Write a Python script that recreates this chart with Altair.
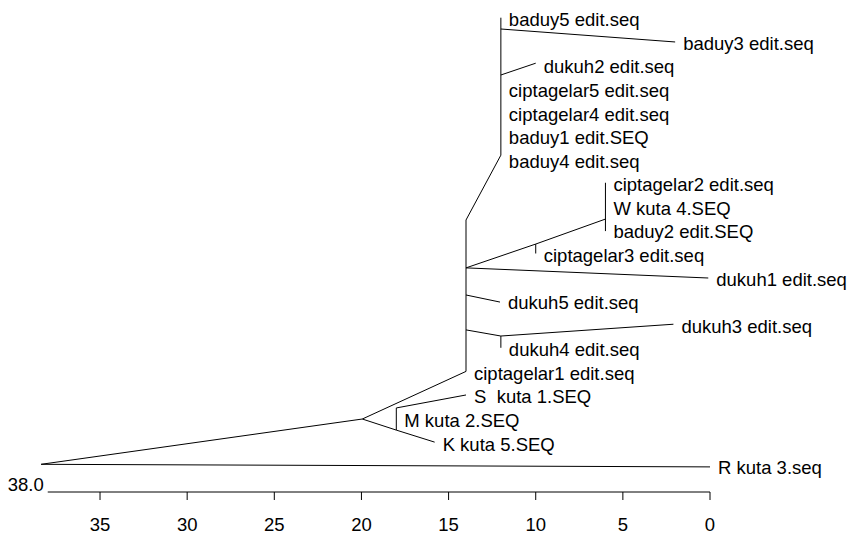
import altair as alt
import pandas as pd

# ---- tree data: internal nodes (distance on the axis, row position) ----
node_ids = ["root", "A", "N6", "N7", "B1", "B", "N8", "N9", "C", "N1", "N2", "N3", "N4", "N5"]
node_dist = [38.38, 19.95, 18.0, 18.0, 14.0, 14.0, 14.0, 14.0, 12.0, 12.0, 12.0, 10.0, 6.0, 12.0]
node_row = [18.94, 17.02, 17.49, 16.55, 8.58, 10.61, 11.76, 13.24, 5.83, 0.48, 2.43, 9.6, 8.54, 13.5]

# ---- leaves (in drawing order, top to bottom) ----
leaf_names = [
    "baduy5 edit.seq", "baduy3 edit.seq", "dukuh2 edit.seq", "ciptagelar5 edit.seq",
    "ciptagelar4 edit.seq", "baduy1 edit.SEQ", "baduy4 edit.seq", "ciptagelar2 edit.seq",
    "W kuta 4.SEQ", "baduy2 edit.SEQ", "ciptagelar3 edit.seq", "dukuh1 edit.seq",
    "dukuh5 edit.seq", "dukuh3 edit.seq", "dukuh4 edit.seq", "ciptagelar1 edit.seq",
    "S\u00a0 kuta 1.SEQ", "M kuta 2.SEQ", "K kuta 5.SEQ", "R kuta 3.seq",
]
leaf_dist = [12.0, 2.0, 10.0, 12.0, 12.0, 12.0, 12.0, 6.0, 6.0, 6.0,
             10.0, 0.1, 12.05, 2.1, 12.0, 14.0, 14.0, 18.0, 15.8, 0.0]
leaf_tip_row = [0.0, 1.03, 1.93, 3.0, 4.0, 5.0, 6.0, 7.0, 8.0, 9.05,
                10.0, 11.04, 12.06, 13.0, 14.0, 15.0, 16.0, 17.0, 18.0, 19.05]
leaf_ids = [f"L{i}" for i in range(len(leaf_names))]

# ---- branches (from node, to node) ----
edge_from = ["root", "root", "A", "A", "N6", "N6", "N7", "L15", "B1", "C", "N1", "N2",
             "B", "N3", "N3", "L7", "B", "N8", "N9", "N5", "N5"]
edge_to = ["A", "L19", "L15", "N6", "L18", "N7", "L16", "B1", "C", "L0", "L1", "L2",
           "N3", "L10", "N4", "L9", "L11", "L12", "N5", "L14", "L13"]

# ---- axis ----
tick_values = [35, 30, 25, 20, 15, 10, 5, 0]
axis_start = 38.0
axis_start_label = "38.0"

pos = {}
for i, d, r in zip(node_ids, node_dist, node_row):
    pos[i] = (d, r)
for i, d, r in zip(leaf_ids, leaf_dist, leaf_tip_row):
    pos[i] = (d, r)

edges = pd.DataFrame({
    "x1": [pos[a][0] for a in edge_from],
    "y1": [pos[a][1] for a in edge_from],
    "x2": [pos[b][0] for b in edge_to],
    "y2": [pos[b][1] for b in edge_to],
})
labels = pd.DataFrame({"name": leaf_names, "dist": leaf_dist,
                       "row": list(range(len(leaf_names)))})
ticks = pd.DataFrame({"v": tick_values, "label": [str(t) for t in tick_values]})
axis_df = pd.DataFrame({"start": [axis_start], "end": [0.0], "label": [axis_start_label]})

W, H = 841, 526
xscale = alt.Scale(domain=[-7.975, 40.28], reverse=True, nice=False, zero=False)
yscale = alt.Scale(domain=[-0.411, 21.896], reverse=True, nice=False, zero=False)
FONT = "Liberation Sans"
FS = 18.5

branch_layer = alt.Chart(edges).mark_rule(color="black", strokeWidth=1).encode(
    x=alt.X("x1:Q", scale=xscale, axis=None),
    x2="x2:Q",
    y=alt.Y("y1:Q", scale=yscale, axis=None),
    y2="y2:Q",
)

label_layer = alt.Chart(labels).mark_text(
    align="left", baseline="middle", dx=8, dy=2.5, font=FONT, fontSize=FS, color="black"
).encode(
    x=alt.X("dist:Q", scale=xscale, axis=None),
    y=alt.Y("row:Q", scale=yscale, axis=None),
    text="name:N",
)

axis_line = alt.Chart(axis_df).mark_rule(color="black", strokeWidth=1).encode(
    x=alt.X("start:Q", scale=xscale, axis=None),
    x2="end:Q",
    y=alt.value(484),
)

tick_layer = alt.Chart(ticks).mark_rule(color="black", strokeWidth=1).encode(
    x=alt.X("v:Q", scale=xscale, axis=None),
    y=alt.value(484),
    y2=alt.value(492),
)

tick_labels = alt.Chart(ticks).mark_text(
    align="center", baseline="middle", font=FONT, fontSize=FS, color="black"
).encode(
    x=alt.X("v:Q", scale=xscale, axis=None),
    y=alt.value(517),
    text="label:N",
)

start_label = alt.Chart(axis_df).mark_text(
    align="right", baseline="middle", dx=-4, font=FONT, fontSize=FS, color="black"
).encode(
    x=alt.X("start:Q", scale=xscale, axis=None),
    y=alt.value(477),
    text="label:N",
)

chart = alt.layer(
    branch_layer, label_layer, axis_line, tick_layer, tick_labels, start_label
).properties(
    width=W, height=H, autosize="none", padding=0
).configure_view(stroke=None)

chart.save("out.html", embed_options={"renderer": "svg", "actions": False})
